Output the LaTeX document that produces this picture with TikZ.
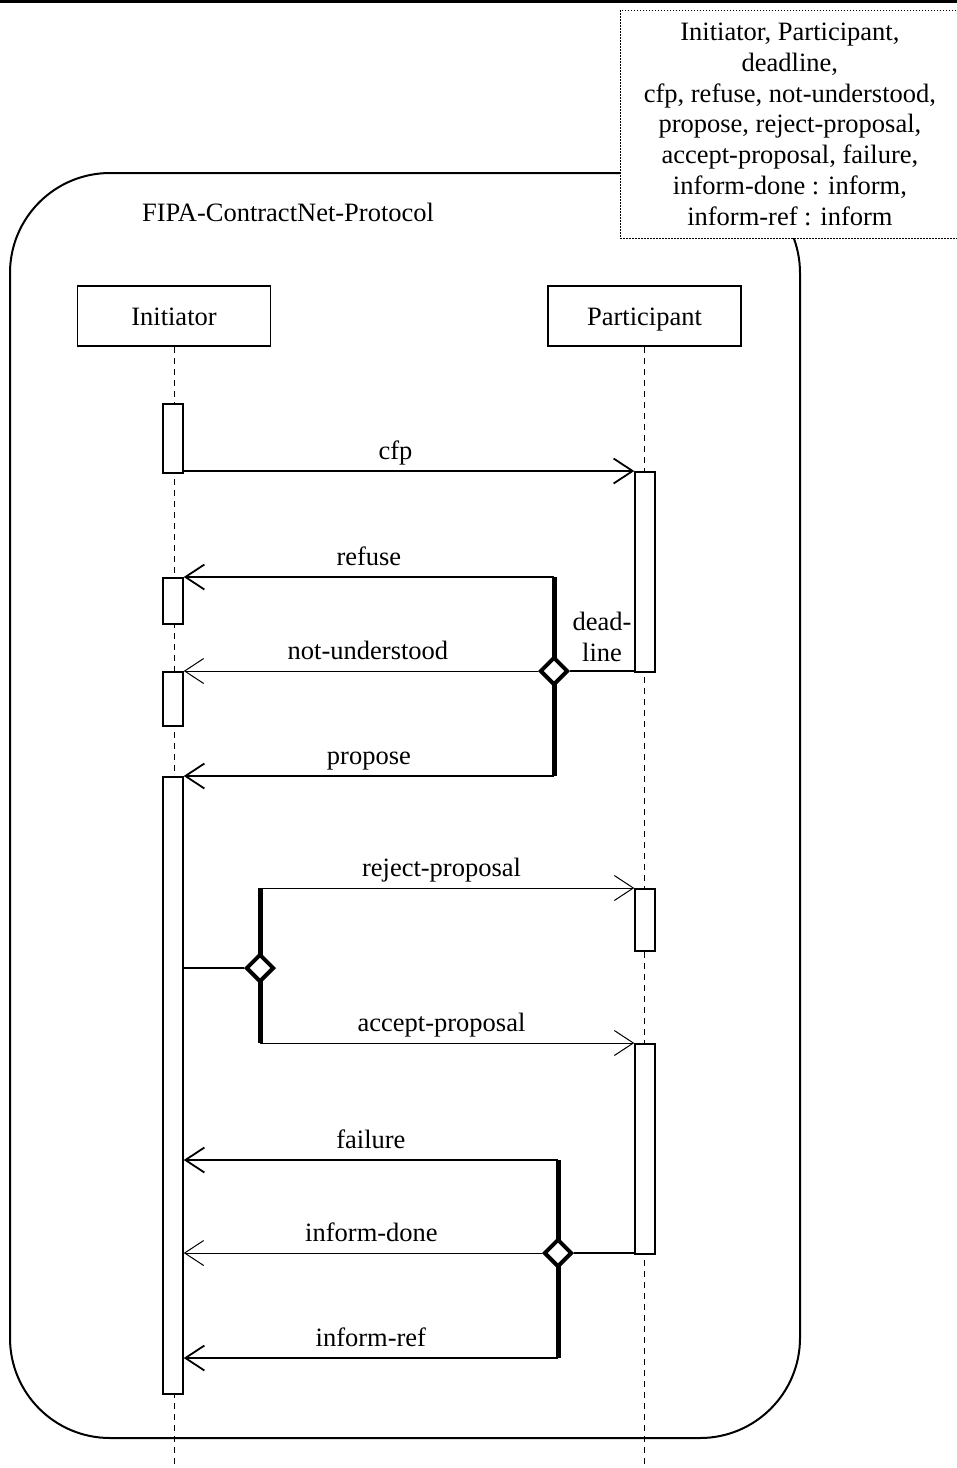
\documentclass[tikz,border=0pt]{standalone}
\usepackage{fontspec}
\setmainfont{Liberation Serif}
\usetikzlibrary{arrows.meta,shapes.geometric}
\tikzset{
  every node/.style={font=\fontsize{26.5}{30.7}\selectfont},
  head/.style={draw, line width=1.5pt, minimum width=193pt, minimum height=60pt, inner sep=0pt,
               text height=18pt, text depth=0pt},
  act/.style={draw, line width=1.5pt, fill=white, minimum width=20pt, inner sep=0pt, anchor=north},
  life/.style={line width=1pt, dash pattern=on 6pt off 5pt},
  msg/.style={line width=1.8pt, -{Straight Barb[length=19pt,width=25pt]}},
  msgthin/.style={line width=1pt, -{Straight Barb[length=19pt,width=25pt]}},
  link/.style={line width=1.2pt},
  bar/.style={line width=5pt},
  choice/.style={diamond, draw, line width=4pt, fill=white, minimum size=28pt, inner sep=0pt},
  msglbl/.style={anchor=base, inner sep=0pt, yshift=12pt},
}
\begin{document}
\begin{tikzpicture}[x=1pt, y=-1pt]
\useasboundingbox (0,0) rectangle (957,1468);

% top rule
\draw[line width=6pt] (0,0) -- (957,0);

% protocol frame
\draw[line width=2pt, rounded corners=100pt] (10,173) rectangle (800,1438);
\node[anchor=base] (title) at (288,221) {FIPA-ContractNet-Protocol};

% parameter note
\node[draw, line width=0.8pt, dash pattern=on 1.5pt off 1.5pt, fill=white,
      anchor=north west, minimum width=339pt, minimum height=228pt,
      align=center, inner sep=0pt] (note) at (620,10)
  {Initiator, Participant,\\deadline,\\cfp, refuse, not-understood,\\propose, reject-proposal,\\accept-proposal, failure,\\inform-done : inform,\\inform-ref : inform};

% roles and lifelines
\node[head] (ih) at (174,316) {Initiator};
\node[head] (ph) at (644.5,316) {Participant};
\coordinate (iend) at (174,1468);
\coordinate (pend) at (644.5,1468);
\draw[life] (ih.south) -- (iend);
\draw[life] (ph.south) -- (pend);

% activations
\node[act, minimum height=69pt]  (i1) at (173,403) {};
\node[act, minimum height=46pt]  (i2) at (173,577) {};
\node[act, minimum height=54pt]  (i3) at (173,671) {};
\node[act, minimum height=617pt] (i4) at (173,776) {};
\node[act, minimum height=200pt] (p1) at (645,471) {};
\node[act, minimum height=62pt]  (p2) at (645,888) {};
\node[act, minimum height=210pt] (p3) at (645,1043) {};

% cfp
\draw[msg] ([yshift=2.5pt]i1.south east) -- ([yshift=2.5pt]i1.south east -| p1.west)
  node[msglbl, pos=.47] {cfp};

% first choice: refuse / not-understood / propose
\coordinate (b1t) at (554,577);
\coordinate (b1b) at (554,776);
\draw[bar] (b1t) -- (b1b);
\node[choice] (d1) at (554,671) {};
\draw[msg] (b1t) -- (b1t -| i2.east) node[msglbl, midway] {refuse};
\draw[msgthin] (d1.west) -- (d1 -| i3.east) node[msglbl, pos=.48] {not-understood};
\draw[msg] (b1b) -- (b1b -| i4.east) node[msglbl, midway] {propose};
\draw[link] (d1.east) -- (d1 -| p1.west);
\node[align=center, inner sep=0pt] (dl) at (602,637) {dead-\\line};

% second choice: reject-proposal / accept-proposal
\coordinate (b2t) at (260,888);
\coordinate (b2b) at (260,1043);
\draw[bar] (b2t) -- (b2b);
\node[choice] (d2) at (260,968) {};
\draw[link] (d2 -| i4.east) -- (d2.west);
\draw[msgthin] (b2t) -- (b2t -| p2.west) node[msglbl, pos=.485] {reject-proposal};
\draw[msgthin] (b2b) -- (b2b -| p3.west) node[msglbl, pos=.485] {accept-proposal};

% third choice: failure / inform-done / inform-ref
\coordinate (b3t) at (558,1160);
\coordinate (b3b) at (558,1358);
\draw[bar] (b3t) -- (b3b);
\node[choice] (d3) at (558,1253) {};
\draw[msg] (b3t) -- (b3t -| i4.east) node[msglbl, midway] {failure};
\draw[msgthin] (d3.west) -- (d3 -| i4.east) node[msglbl, pos=.476] {inform-done};
\draw[msg] (b3b) -- (b3b -| i4.east) node[msglbl, midway] {inform-ref};
\draw[link] (d3.east) -- (d3 -| p3.west);
\end{tikzpicture}
\end{document}
